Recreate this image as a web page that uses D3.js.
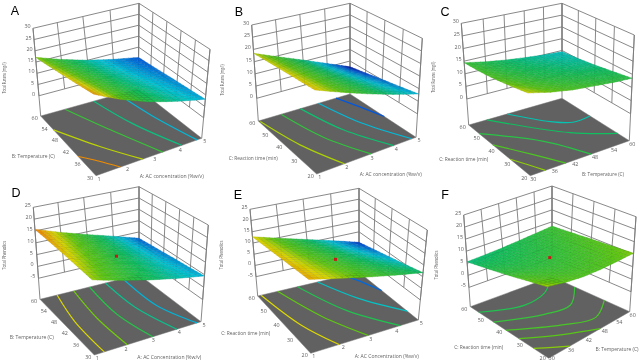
<!DOCTYPE html>
<html><head><meta charset="utf-8">
<script src="https://cdn.jsdelivr.net/npm/d3@7"></script>
<style>
html,body{margin:0;padding:0;background:#fff}
svg{display:block;filter:blur(0.35px)}
text{font-family:"Open Sans",sans-serif;fill:#5f5f5f;font-size:5.4px}
.letter{font-family:"Liberation Sans",sans-serif;fill:#000;font-size:12.5px}
</style></head><body>
<svg id="c" width="642" height="363"></svg>
<script>
// ---- axis ticks ----
const concTicks=[1,2,3,4,5];
const tempTicks=[30,36,42,48,54,60];
const timeTicks=[20,30,40,50,60];
const furanTicks=[0,5,10,15,20,25,30];
const phenolTicks=[-5,0,5,10,15,20,25];

// ---- response values read at the tick crossings (rows: y-axis tick, columns: x-axis tick) ----
const surfaceA=[[21,16.6,13,10.3,8.1],[20.2,15.9,12.4,9.7,7.5],[19.4,15.2,11.8,9.2,7],[18.6,14.6,11.2,8.6,6.4],[17.8,13.9,10.6,8,5.8],[17.1,13.3,10,7.4,5.3]];
const surfaceB=[[19.7,16.5,13.4,10.5,7.9],[19.4,16,12.7,9.5,6.5],[19.1,15.5,12,8.5,5.2],[18.8,15,11.3,7.5,3.8],[18.4,14.5,10.6,6.5,2.5]];
const surfaceC=[[19,17,15.6,14.8,14,13.5],[17.4,15.5,14.2,13.4,12.7,12.3],[16,14.3,13,12.2,11.5,11.1],[15,13.4,12.2,11.4,10.7,10.2],[14.4,12.8,11.6,10.7,10,9.5]];
const surfaceD=[[12.2,9.9,7.8,6,4.5],[12.9,10.3,8,5.9,4],[13.6,10.8,8.2,5.9,3.6],[14.3,11.2,8.4,5.8,3.1],[15,11.7,8.6,5.7,2.7],[15.7,12.1,8.8,5.6,2.2]];
const surfaceE=[[14,12,10.1,8.3,6.7],[13.7,11.4,9.2,7,5],[13.4,10.8,8.3,5.8,3.4],[13.1,10.2,7.4,4.6,1.8],[12.8,9.6,6.5,3.4,0.2]];
const surfaceF=[[11,9.8,9.2,9.2,9.7,10.4],[9.6,8.7,8.3,8.5,9,9.8],[8.1,7.6,7.6,7.9,8.5,9.3],[6.8,6.7,7,7.4,8,8.7],[5.6,5.9,6.3,6.9,7.5,8.2]];

// ---- floor contours in axis units ----
const contoursA=[[[1,38.7],[1.42,34.7],[1.85,30]],[[1,52.2],[1.85,39.8],[2.66,30]],[[1.93,60],[2.64,45],[3.42,30]],[[3.08,60],[3.5,44.5],[4.18,30]],[[4.11,60],[4.36,45.5],[4.81,30]]];
const contoursB=[[[1.04,59.2],[1.43,37.6],[2.03,20]],[[1.92,60],[2.36,37],[3.08,20]],[[2.74,60],[3.2,38],[4.02,20]],[[3.54,60],[4,39],[4.82,20]],[[4.34,60],[4.72,48],[5,37.8]]];
const contoursC=[[[30,31.9],[32.2,25.8],[34.2,20]],[[30,43.1],[35.8,30.2],[40.1,20]],[[30,52.4],[41.6,35.7],[47.7,20]],[[35.4,60],[49.9,35.8],[60,26.3]],[[41.7,60],[49.1,46.4],[53.9,41.6],[60,42.2]]];
const contoursD=[[[1.64,60],[1.37,45.6],[1.34,30]],[[2.28,60],[2.1,44.2],[2.15,30]],[[2.91,60],[2.8,43.5],[3.09,30]],[[3.56,60],[3.58,44.5],[4.02,30]],[[4.3,60],[4.3,42.5],[4.84,30]]];
const contoursE=[[[1.12,60],[1.45,36],[1.96,20]],[[1.72,60],[2.28,37.5],[3.02,20]],[[2.47,60],[3.18,37.2],[4.26,20]],[[3.26,60],[3.96,42.5],[5,26.8]],[[4.38,60],[4.72,52],[5,43.6]]];
const contoursF=[[[30,26.4],[33.4,23],[36.5,20]],[[30,33.2],[38.7,25.8],[47.4,20]],[[30,39.6],[41.7,29.9],[50.8,25.6],[60,31.6]],[[30,46.2],[41.9,38.8],[50.7,37.5],[60,46.8]],[[30,54.8],[41.3,48.3],[50.4,50.9],[54.7,54.8]]];
const levelsA=[21,18,14,11,8.5];
const levelsB=[17.8,13.5,11,8,4.5];
const levelsC=[17.5,15.5,13.5,12,10];
const levelsD=[13.2,11.5,8.5,6.5,4.5];
const levelsE=[12.6,10.5,7.5,4.5,1.5];
const levelsF=[10.5,9.5,8.8,8,7];

// ---- labels ----
const panelLetters=["A","B","C","D","E","F"];
const xTitles=["A: AC concentration (%w/v)","A: AC concentration (%w/v)","B: Temperature (C)","A: AC Concentration (%w/v)","A: AC Concentration (%w/v)","B: Temperature (C)"];
const yTitles=["B: Temperature (C)","C: Reaction time (min)","C: Reaction time (min)","B: Temperature (C)","C: Reaction time (min)","C: Reaction time (min)"];
const zTitles=["Total Furans (mg/l)","Total Furans (mg/l)","Total Furans (mg/l)","Total Phenolics","Total Phenolics","Total Phenolics"];

// ---- design-point markers (x value, y value, response) ----
const centreD=[3,45,8.3];
const centreE=[3,40,7.5];
const centreF=[45,40,8];

// ---- page geometry of each 3-D box: floor and ceiling quads [front,right,left,back] ----
const geometry=[
 {floor:[[96,175.7],[201.7,138.3],[40.7,116],[138.3,88.7]],top:[[93,69.7],[210,49.3],[33,28.3],[139,3.3]],zFloor:-9,letter:[15,10],xT:[171.7,178.3,64],yT:[33.3,157.7,43],zT:[6,78,31]},
 {floor:[[316.7,174],[416,137.3],[258.3,121],[350,94]],top:[[314,60],[422.3,38.3],[251.7,25],[350,3.3]],zFloor:-9.3,letter:[239,11],xT:[390.7,175.7,62],yT:[253.3,160.3,49],zT:[224.3,80,31]},
 {floor:[[530.3,175.7],[629.3,140.7],[468.7,125],[562,98.3]],top:[[527,62],[634.3,35],[461.3,23.3],[562,3.3]],zFloor:-10.3,letter:[445,11],xT:[603,175.7,42],yT:[463.7,161,49],zT:[435.3,77.3,31]},
 {floor:[[94.3,355],[201,321.7],[40,299.3],[139,274.7]],top:[[91,243],[208.3,225],[33.3,207.3],[139,186.7]],zFloor:-13.9,letter:[16,192],xT:[169.3,359,64],yT:[31.7,338.7,44],zT:[5.7,255.3,29]},
 {floor:[[310.7,353.3],[418.3,320],[257.7,296],[359,272.3]],top:[[308,250],[427.3,230],[250,209.3],[359,188.3]],zFloor:-13.6,letter:[238,194],xT:[386.7,357.7,64],yT:[245.7,335.3,49],zT:[222.7,255,29]},
 {floor:[[548.7,358.3],[629.7,311.7],[470.3,306.7],[552,276.7]],top:[[546,245],[636,216.7],[463.7,215],[552,186]],zFloor:-13,letter:[445,194],xT:[617,351,43],yT:[478.7,349,49],zT:[437.7,265,29]}
];

const panels=[
 {xt:concTicks,yt:tempTicks,zt:furanTicks,s:surfaceA,c:contoursA,l:levelsA,dom:[3,22.5]},
 {xt:concTicks,yt:timeTicks,zt:furanTicks,s:surfaceB,c:contoursB,l:levelsB,dom:[2,23]},
 {xt:tempTicks,yt:timeTicks,zt:furanTicks,s:surfaceC,c:contoursC,l:levelsC,dom:[3,23]},
 {xt:concTicks,yt:tempTicks,zt:phenolTicks,s:surfaceD,c:contoursD,l:levelsD,dom:[0,16.5],dot:centreD},
 {xt:concTicks,yt:timeTicks,zt:phenolTicks,s:surfaceE,c:contoursE,l:levelsE,dom:[-1,16],dot:centreE},
 {xt:tempTicks,yt:timeTicks,zt:phenolTicks,s:surfaceF,c:contoursF,l:levelsF,dom:[-1,15],dot:centreF}
];

const colourStops=[0,.12,.3,.45,.68,.8,.92,1];
const colourRange=["#00008c","#0058e0","#00c4d8","#10c060","#60c810","#dcd800","#f09000","#d82000"];

// unit square -> quad homography
function quadMap(q){
  const [[x0,y0],[x1,y1],[x3,y3],[x2,y2]]=q; // (0,0),(1,0),(0,1),(1,1)
  const dx1=x1-x2,dx2=x3-x2,sx=x0-x1+x2-x3,dy1=y1-y2,dy2=y3-y2,sy=y0-y1+y2-y3;
  const den=dx1*dy2-dx2*dy1;
  const g=(sx*dy2-dx2*sy)/den,h=(dx1*sy-sx*dy1)/den;
  const a=x1-x0+g*x1,b=x3-x0+h*x3,d=y1-y0+g*y1,e=y3-y0+h*y3;
  return (u,v)=>{const w=g*u+h*v+1;return[(a*u+b*v+x0)/w,(d*u+e*v+y0)/w];};
}

const svg=d3.select("#c");
const line=d3.line();
const smooth=d3.line().curve(d3.curveCatmullRom.alpha(0.5));

panels.forEach((p,i)=>{
  const G=geometry[i],g=svg.append("g");
  const fx=d3.scaleLinear().domain(d3.extent(p.xt)).range([0,1]);
  const fy=d3.scaleLinear().domain(d3.extent(p.yt)).range([0,1]);
  const fz=d3.scaleLinear().domain([G.zFloor,d3.max(p.zt)]).range([0,1]);
  const mf=quadMap(G.floor),mt=quadMap(G.top);
  const colour=d3.scaleLinear().domain(colourStops.map(t=>p.dom[0]+t*(p.dom[1]-p.dom[0]))).range(colourRange).clamp(true);
  const proj=(u,v,t)=>{const a=mf(u,v),b=mt(u,v);return[a[0]+(b[0]-a[0])*t,a[1]+(b[1]-a[1])*t];};

  // floor
  g.append("path").attr("d",line([mf(0,0),mf(1,0),mf(1,1),mf(0,1)])+"Z").attr("fill","#616161").attr("stroke","#777").attr("stroke-width",.5);
  // walls
  const wall=(pts)=>g.append("path").attr("d",line(pts)).attr("fill","none").attr("stroke","#7c7c7c").attr("stroke-width",.9);
  p.xt.forEach(x=>wall([proj(fx(x),1,fz(d3.min(p.zt))),proj(fx(x),1,1)]));
  p.yt.forEach(y=>wall([proj(1,fy(y),fz(d3.min(p.zt))),proj(1,fy(y),1)]));
  p.zt.forEach(z=>wall([proj(0,1,fz(z)),proj(1,1,fz(z)),proj(1,0,fz(z))]));
  [[0,1],[1,1],[1,0]].forEach(c=>wall([proj(c[0],c[1],0),proj(c[0],c[1],1)]));
  // contours
  p.c.forEach((ct,k)=>{
    g.append("path").attr("d",smooth(ct.map(d=>mf(fx(d[0]),fy(d[1]))))).attr("fill","none")
     .attr("stroke",colour(p.l[k])).attr("stroke-width",1.2);
  });
  // surface: read values, shaded on a finer display mesh
  const ny=p.s.length-1,nx=p.s[0].length-1,subX=Math.round(20/nx),subY=Math.round(20/ny);
  const val=(gx,gy)=>{
    const ix=Math.min(Math.floor(gx),nx-1),iy=Math.min(Math.floor(gy),ny-1),tx=gx-ix,ty=gy-iy;
    return d3.interpolateNumber(d3.interpolateNumber(p.s[iy][ix],p.s[iy][ix+1])(tx),d3.interpolateNumber(p.s[iy+1][ix],p.s[iy+1][ix+1])(tx))(ty);
  };
  const vtx=(gx,gy)=>proj(gx/nx,gy/ny,fz(val(gx,gy)));
  for(let j=0;j<ny*subY;j++)for(let k=0;k<nx*subX;k++){
    const x0=k/subX,x1=(k+1)/subX,y0=j/subY,y1=(j+1)/subY;
    const c=colour(val((x0+x1)/2,(y0+y1)/2));
    g.append("path").attr("d",line([vtx(x0,y0),vtx(x1,y0),vtx(x1,y1),vtx(x0,y1)])+"Z")
     .attr("fill",c).attr("stroke",d3.color(c).darker(.6)).attr("stroke-width",.35);
  }
  // design point
  if(p.dot){
    const u=fx(p.dot[0]),v=fy(p.dot[1]),q=proj(u,v,fz(p.dot[2]));
    g.append("rect").attr("x",q[0]-1.5).attr("y",q[1]-1.5).attr("width",3).attr("height",3).attr("fill","#c81818");
  }
  // tick labels
  p.xt.forEach(x=>{const q=mf(fx(x),0);g.append("text").attr("x",q[0]+3).attr("y",Math.min(q[1]+5,360)).attr("text-anchor","middle").text(x);});
  p.yt.forEach(y=>{const q=mf(0,fy(y));g.append("text").attr("x",q[0]-6).attr("y",Math.min(q[1]+4,360)).attr("text-anchor","middle").text(y);});
  p.zt.forEach(z=>{const q=proj(0,1,fz(z));g.append("text").attr("x",q[0]-5.5).attr("y",q[1]).attr("text-anchor","middle").text(z);});
  // titles
  const title=(t,a,rot)=>{const e=g.append("text").attr("text-anchor","middle").attr("textLength",a[2]).attr("lengthAdjust","spacingAndGlyphs").text(t);
    if(rot)e.attr("transform",`translate(${a[0]},${a[1]}) rotate(-90)`);else e.attr("x",a[0]).attr("y",a[1]);};
  title(xTitles[i],G.xT);title(yTitles[i],G.yT);title(zTitles[i],G.zT,true);
  g.append("text").attr("class","letter").attr("x",G.letter[0]).attr("y",G.letter[1]+4.5).attr("text-anchor","middle").text(panelLetters[i]);
});
</script>
</body></html>
